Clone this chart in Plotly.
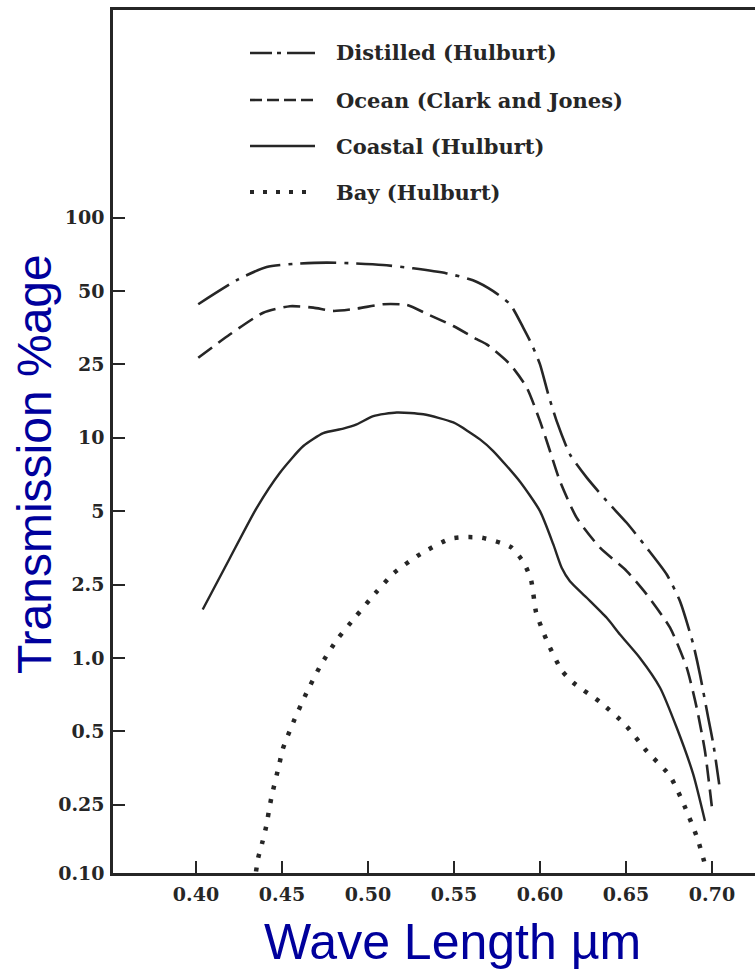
import numpy as np
import plotly.graph_objects as go

# ---------------- data ----------------
wl_distilled = [0.4013, 0.4246, 0.4411, 0.4585, 0.4760, 0.4913, 0.5087, 0.5262, 0.5458, 0.5610,
                0.5728, 0.5826, 0.5903, 0.5952, 0.6000, 0.6048, 0.6097, 0.6174, 0.6272, 0.6388,
                0.6504, 0.6620, 0.6737, 0.6814, 0.6891, 0.6930, 0.6978, 0.7008, 0.7042]
tr_distilled = [44.1, 55.8, 62.7, 64.7, 65.3, 64.9, 63.9, 61.9, 59.0, 55.3,
                49.9, 44.1, 35.3, 30.2, 25.0, 17.2, 12.3, 8.55, 6.86, 5.50,
                4.48, 3.54, 2.75, 2.03, 1.185, 0.856, 0.568, 0.442, 0.303]

wl_ocean = [0.4013, 0.4198, 0.4391, 0.4547, 0.4682, 0.4798, 0.4934, 0.5089, 0.5225, 0.5341,
            0.5496, 0.5632, 0.5690, 0.5826, 0.5923, 0.6000, 0.6058, 0.6116, 0.6213, 0.6349,
            0.6504, 0.6620, 0.6756, 0.6853, 0.6911, 0.6959, 0.7002]
tr_ocean = [26.6, 33.2, 40.7, 43.3, 42.7, 41.4, 42.3, 44.1, 43.8, 40.3,
            35.9, 31.7, 30.2, 25.0, 18.7, 12.3, 8.82, 6.64, 4.70, 3.54,
            2.84, 2.21, 1.46, 0.912, 0.625, 0.415, 0.230]

wl_coastal = [0.4039, 0.4198, 0.4353, 0.4488, 0.4624, 0.4740, 0.4856, 0.4934, 0.5031, 0.5167,
              0.5322, 0.5496, 0.5651, 0.5728, 0.5884, 0.6000, 0.6077, 0.6126, 0.6174, 0.6272,
              0.6388, 0.6465, 0.6581, 0.6698, 0.6795, 0.6891, 0.6959]
tr_coastal = [1.83, 3.22, 5.16, 7.19, 9.25, 10.6, 11.2, 11.8, 13.1, 13.7,
              13.4, 12.1, 9.85, 8.82, 6.6, 5.0, 3.66, 2.93, 2.58, 2.12,
              1.65, 1.34, 1.0, 0.755, 0.517, 0.333, 0.201]

wl_bay = [0.4349, 0.4362, 0.4385, 0.4407, 0.4438, 0.4484, 0.4504, 0.4566, 0.4640, 0.4725,
          0.4818, 0.4930, 0.5042, 0.5151, 0.5306, 0.5477, 0.5564, 0.5661, 0.5831, 0.5907,
          0.5948, 0.5977, 0.6010, 0.6048, 0.6126, 0.6194, 0.6349, 0.6494, 0.6620, 0.6756,
          0.6843, 0.6915, 0.6965]
tr_bay = [0.102, 0.123, 0.150, 0.185, 0.267, 0.366, 0.422, 0.546, 0.713, 0.933,
          1.25, 1.68, 2.24, 2.79, 3.34, 3.85, 3.91, 3.89, 3.56, 3.06,
          2.61, 1.77, 1.45, 1.19, 0.889, 0.791, 0.659, 0.534, 0.415, 0.328,
          0.242, 0.159, 0.107]

series_names = ["Distilled (Hulburt)", "Ocean (Clark and Jones)", "Coastal (Hulburt)", "Bay (Hulburt)"]

y_tick_vals = [0.10, 0.25, 0.5, 1.0, 2.5, 5, 10, 25, 50, 100]
y_tick_text = ["0.10", "0.25", "0.5", "1.0", "2.5", "5", "10", "25", "50", "100"]
x_tick_vals = [0.40, 0.45, 0.50, 0.55, 0.60, 0.65, 0.70]
x_tick_text = ["0.40", "0.45", "0.50", "0.55", "0.60", "0.65", "0.70"]

# ---------------- axis scale ----------------
# The original's y axis places its labelled values at equal steps (the lowest step a bit shorter);
# values between labels are spaced logarithmically.
TICK_POS = np.array([0.0] + [0.93 + i for i in range(len(y_tick_vals) - 1)])


def to_axis(v):
    return np.interp(np.log10(np.asarray(v, dtype=float)), np.log10(y_tick_vals), TICK_POS)


W, H = 755, 974
L, R, T, B = 113, 0, 10, 101
PW, PH = W - L - R, H - T - B


def px2x(px):
    return (px - L) / PW


def py2y(py):
    return (H - B - py) / PH


INK = "#262626"
BLUE = "#00009c"
SERIF = "DejaVu Serif"

styles = [
    dict(dash="36px,8px,4px,8px", width=2.6),
    dict(dash="17px,8px", width=2.6),
    dict(dash="solid", width=2.4),
    dict(dash="4px,10px", width=4.5),
]
legend_dash = [
    dict(dash="22px,5px,4px,6px,28px,20px", width=2.6),
    dict(dash="12px,5px", width=2.6),
    dict(dash="solid", width=2.4),
    dict(dash="4px,9px", width=4),
]

fig = go.Figure()
all_series = [(wl_distilled, tr_distilled), (wl_ocean, tr_ocean),
              (wl_coastal, tr_coastal), (wl_bay, tr_bay)]
for (wl, tr), name, st in zip(all_series, series_names, styles):
    fig.add_trace(go.Scatter(
        x=wl, y=to_axis(tr), mode="lines", name=name, showlegend=False,
        line=dict(color=INK, width=st["width"], dash=st["dash"], shape="spline", smoothing=0.6),
        customdata=tr, hovertemplate="%{x:.3f} µm: %{customdata}%<extra>" + name + "</extra>",
    ))

# hand-drawn style legend (samples + labels) as in the original
row_py = [53, 100, 146, 192]
shapes = []
annotations = []
for name, st, py in zip(series_names, legend_dash, row_py):
    shapes.append(dict(type="line", xref="paper", yref="paper",
                       x0=px2x(250), x1=px2x(315), y0=py2y(py), y1=py2y(py),
                       line=dict(color=INK, width=st["width"], dash=st["dash"])))
    annotations.append(dict(xref="paper", yref="paper", x=px2x(334), y=py2y(py),
                            xanchor="left", yanchor="middle", showarrow=False, text=name,
                            font=dict(family=SERIF, size=21, color=INK, weight="bold")))

# axis titles
annotations.append(dict(xref="paper", yref="paper", x=px2x(453), y=py2y(942),
                        xanchor="center", yanchor="middle", showarrow=False,
                        text="Wave Length µm",
                        font=dict(family="Liberation Sans, Arial", size=50, color=BLUE)))
annotations.append(dict(xref="paper", yref="paper", x=px2x(34), y=py2y(464),
                        xanchor="center", yanchor="middle", showarrow=False, textangle=-90,
                        text="Transmission %age",
                        font=dict(family="Liberation Sans, Arial", size=48, color=BLUE)))

x_lo = 0.40 - (196 - L) / 1720.0
x_hi = 0.70 + (W - R - 712) / 1720.0

fig.update_layout(
    width=W, height=H,
    margin=dict(l=L, r=R, t=T, b=B, pad=0),
    paper_bgcolor="white", plot_bgcolor="white",
    showlegend=False,
    shapes=shapes, annotations=annotations,
    xaxis=dict(range=[x_lo, x_hi], tickvals=x_tick_vals, ticktext=x_tick_text,
               ticks="inside", ticklen=12, tickwidth=2, tickcolor=INK,
               showline=True, linewidth=2.5, linecolor=INK, mirror=True,
               showgrid=False, zeroline=False, ticklabelstandoff=2,
               tickfont=dict(family=SERIF, size=19, color=INK, weight="bold")),
    yaxis=dict(range=[0, (H - B - T) / 73.4], tickvals=TICK_POS.tolist(), ticktext=y_tick_text,
               ticks="inside", ticklen=12, tickwidth=2, tickcolor=INK,
               showline=True, linewidth=2.5, linecolor=INK, mirror=False,
               showgrid=False, zeroline=False, ticklabelstandoff=2,
               tickfont=dict(family=SERIF, size=19, color=INK, weight="bold")),
)

fig.write_html("out.html", config={"displayModeBar": False},
               post_script="document.body.style.margin='0';document.body.style.overflow='hidden';")
